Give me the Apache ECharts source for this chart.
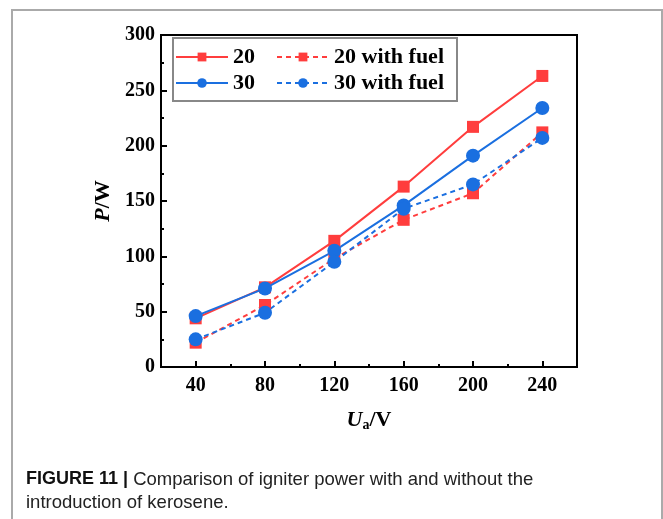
<!DOCTYPE html>
<html><head><meta charset="utf-8">
<script src="https://cdn.jsdelivr.net/npm/echarts@6/dist/echarts.min.js"></script>
<style>html,body{margin:0;padding:0;background:#fff}#c{width:663px;height:519px}</style>
</head><body><div id="c"></div>
<script>
const voltages = [40, 80, 120, 160, 200, 240];
const p20 = [44, 72, 114, 163, 217, 263];
const p20Fuel = [22, 56, 98, 133, 157, 212];
const p30 = [46, 71, 105, 146, 191, 234];
const p30Fuel = [25, 49, 95, 143, 165, 207];
const xTickLabels = [40, 80, 120, 160, 200, 240];
const seriesNames = ['20', '20 with fuel', '30', '30 with fuel'];

const RED = '#FF3D3D', BLUE = '#1A6FE0';
const SERIF = '"Liberation Serif","Times New Roman",serif';
const SANS = '"Liberation Sans",Arial,sans-serif';
const pair = arr => voltages.map((v, i) => [v, arr[i]]);

function mk(name, data, color, symbol, size, dashed) {
  return {
    name, type: 'line', data: pair(data), symbol, symbolSize: size,
    itemStyle: { color },
    lineStyle: { color, width: 2, type: dashed ? [5, 4] : 'solid' },
    z: 3
  };
}

const chart = echarts.init(document.getElementById('c'), null, { renderer: 'canvas' });
const legendText = { fontFamily: SERIF, fontWeight: 'bold', fontSize: 22, color: '#000' };
chart.setOption({
  backgroundColor: '#fff',
  animation: false,
  grid: { left: 161, top: 35, right: 86, bottom: 152, show: true, borderColor: '#000', borderWidth: 2, backgroundColor: 'transparent' },
  xAxis: [{
    type: 'value', min: 20, max: 260, interval: 20,
    axisLine: { show: true, lineStyle: { color: '#000', width: 2 } },
    axisTick: { show: true, inside: true, length: 3, lineStyle: { color: '#000', width: 2 } },
    axisLabel: { fontFamily: SERIF, fontWeight: 'bold', fontSize: 20, color: '#000', margin: 9,
      formatter: v => (xTickLabels.indexOf(v) >= 0 ? String(v) : '') },
    splitLine: { show: false },
    name: '{i|U}{s|a}{n|/V}', nameLocation: 'middle', nameGap: 41,
    nameTextStyle: { rich: {
      i: { fontFamily: SERIF, fontWeight: 'bold', fontStyle: 'italic', fontSize: 22, color: '#000' },
      s: { fontFamily: SERIF, fontWeight: 'bold', fontSize: 14, color: '#000', padding: [10, 0, 0, 0] },
      n: { fontFamily: SERIF, fontWeight: 'bold', fontSize: 22, color: '#000' } } }
  }, {
    type: 'value', min: 20, max: 260, position: 'bottom', gridIndex: 0,
    axisLine: { show: false },
    axisTick: { show: true, inside: true, length: 6, customValues: xTickLabels, lineStyle: { color: '#000', width: 2 } },
    axisLabel: { show: false },
    splitLine: { show: false }
  }],
  yAxis: {
    type: 'value', min: 0, max: 300, interval: 50,
    axisLine: { show: true, lineStyle: { color: '#000', width: 2 } },
    axisTick: { show: true, inside: true, length: 6, lineStyle: { color: '#000', width: 2 } },
    minorTick: { show: true, splitNumber: 2, length: 3, lineStyle: { color: '#000', width: 2 } },
    axisLabel: { fontFamily: SERIF, fontWeight: 'bold', fontSize: 20, color: '#000', margin: 6 },
    splitLine: { show: false },
    name: '{i|P}{n|/W}', nameLocation: 'middle', nameGap: 41, nameRotate: 90,
    nameTextStyle: { rich: {
      i: { fontFamily: SERIF, fontWeight: 'bold', fontStyle: 'italic', fontSize: 22, color: '#000' },
      n: { fontFamily: SERIF, fontWeight: 'bold', fontSize: 22, color: '#000' } } }
  },
  legend: [{
    data: [seriesNames[0], seriesNames[1]], orient: 'horizontal', left: 175, top: 46, padding: 0,
    itemWidth: 52, itemHeight: 11, itemGap: 21, textStyle: legendText
  }, {
    data: [seriesNames[2], seriesNames[3]], orient: 'horizontal', left: 175, top: 72, padding: 0,
    itemWidth: 52, itemHeight: 12, itemGap: 21, textStyle: legendText
  }],
  graphic: [
    { type: 'rect', shape: { x: 12, y: 10, width: 650, height: 530 }, style: { fill: 'none', stroke: '#aaa', lineWidth: 2 }, silent: true, z: 0 },
    { type: 'rect', shape: { x: 173, y: 38, width: 284, height: 63 }, style: { fill: 'none', stroke: '#888', lineWidth: 2 }, silent: true, z: 10 },
    { type: 'text', left: 26, top: 468, z: 10,
      style: { text: '{b|FIGURE 11 |} Comparison of igniter power with and without the\nintroduction of kerosene.',
        fontFamily: SANS, fontSize: 18.5, lineHeight: 23, fill: '#222',
        rich: { b: { fontFamily: SANS, fontWeight: 'bold', fontSize: 18, lineHeight: 23, fill: '#111' } } } }
  ],
  series: [
    mk(seriesNames[0], p20, RED, 'rect', 12, false),
    mk(seriesNames[1], p20Fuel, RED, 'rect', 12, true),
    mk(seriesNames[2], p30, BLUE, 'circle', 14, false),
    mk(seriesNames[3], p30Fuel, BLUE, 'circle', 14, true)
  ]
});
</script></body></html>
